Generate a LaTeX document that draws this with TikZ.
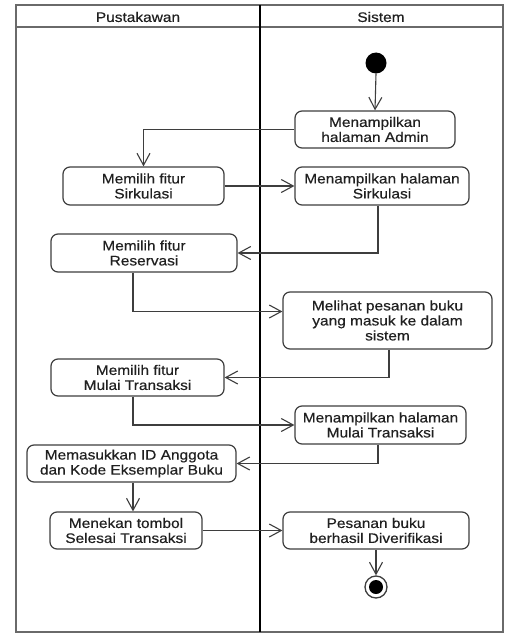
\documentclass[tikz,border=0pt]{standalone}
\usepackage{fontspec}
\setmainfont{Liberation Sans}[FakeStretch=1.12,FakeBold=0.4]
\usetikzlibrary{arrows.meta,calc}
\definecolor{linegray}{HTML}{3E3E3E}
\definecolor{framegray}{HTML}{6A6A6A}
\definecolor{textgray}{HTML}{202020}
\begin{document}
\begin{tikzpicture}[x=1pt,y=-1pt,
  action/.style={draw=linegray,line width=1.2pt,rounded corners=7pt,
    text=textgray,align=center,inner sep=0pt,
    font=\fontsize{13.8}{15}\selectfont},
  flow/.style={draw=linegray,line width=1.1pt,
    -{Straight Barb[length=12pt,width=13pt,line width=1.1pt]}},
  lanehead/.style={text=textgray,font=\fontsize{13.8}{15}\selectfont}]
  \useasboundingbox (0,0) rectangle (505,634);
  \fill[white] (0,0) rectangle (505,634);

  % swimlane frame
  \draw[framegray,line width=1.4pt] (16,5) rectangle (503,632);
  \draw[framegray,line width=1.1pt] (16,27) -- (503,27);
  \draw[black,line width=2pt] (260,5) -- (260,632);
  \node[lanehead] (lanePus) at (138,17) {Pustakawan};
  \node[lanehead] (laneSis) at (381,17) {Sistem};

  % start and end
  \fill[black] (376,63) circle (10.5);
  \coordinate (start) at (376,73.5);
  \node[circle,draw=linegray,line width=1.3pt,minimum size=22pt,inner sep=0pt] (finish) at (376,587) {};
  \fill[black] (finish.center) circle (7);

  % actions
  \node[action,minimum width=160pt,minimum height=37pt] (A1) at (375,129.5) {Menampilkan\\halaman Admin};
  \node[action,minimum width=161pt,minimum height=38pt] (B1) at (143.5,186) {Memilih fitur\\Sirkulasi};
  \node[action,minimum width=174pt,minimum height=38pt] (A2) at (382,186) {Menampilkan halaman\\Sirkulasi};
  \node[action,minimum width=186pt,minimum height=38pt] (B2) at (144,253) {Memilih fitur\\Reservasi};
  \node[action,minimum width=209pt,minimum height=57pt] (A3) at (387.5,320.5) {Melihat pesanan buku\\yang masuk ke dalam\\sistem};
  \node[action,minimum width=173pt,minimum height=37pt] (B3) at (137.5,377.5) {Memilih fitur\\Mulai Transaksi};
  \node[action,minimum width=171pt,minimum height=38pt] (A4) at (380.5,425) {Menampilkan halaman\\Mulai Transaksi};
  \node[action,minimum width=209pt,minimum height=37pt] (B4) at (131.5,463.5) {Memasukkan ID Anggota\\dan Kode Eksemplar Buku};
  \node[action,minimum width=152pt,minimum height=37pt] (B5) at (126,530.5) {Menekan tombol\\Selesai Transaksi};
  \node[action,minimum width=186pt,minimum height=37pt] (A5) at (376,530.5) {Pesanan buku\\berhasil Diverifikasi};

  % control flow
  \draw[flow] (start) -- (A1.north);
  \draw[flow] (A1.west) -| (B1.north);
  \draw[flow] (B1.east) -- (A2.west);
  \draw[flow] ($(A2.south)+(-4,0)$) |- (B2.east);
  \draw[flow] ($(B2.south)+(-11,0)$) |- ($(A3.west)+(0,-9)$);
  \draw[flow] ($(A3.south)+(1.5,0)$) |- (B3.east);
  \draw[flow] ($(B3.south)+(-4.5,0)$) |- (A4.west);
  \draw[flow] ($(A4.south)+(-2.5,0)$) |- (B4.east);
  \draw[flow] ($(B4.south)+(1.5,0)$) -- ($(B5.north)+(7,0)$);
  \draw[flow] (B5.east) -- (A5.west);
  \draw[flow] (A5.south) -- (finish.north);
\end{tikzpicture}
\end{document}
